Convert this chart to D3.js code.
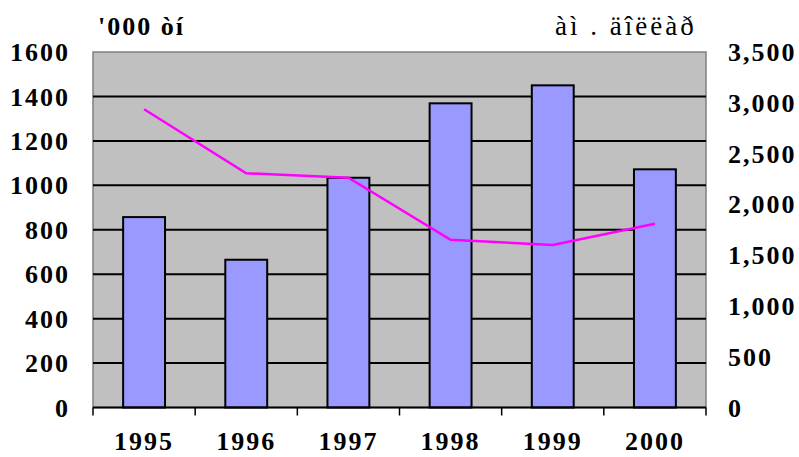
<!DOCTYPE html>
<html>
<head>
<meta charset="utf-8">
<script src="https://cdn.jsdelivr.net/npm/d3@7"></script>
<style>
  body { margin: 0; background: #fff; }
  svg text.lbl { font-family: "Liberation Serif"; font-weight: bold; fill: #000; }
  svg text.lbl.thin { font-weight: normal; }
</style>
</head>
<body>
<div id="chart"></div>
<script>
// data
var years = ["1995", "1996", "1997", "1998", "1999", "2000"];
var barValues = [857, 665, 1034, 1369, 1450, 1072];
var lineValues = [2936, 2306, 2262, 1652, 1600, 1810];
var leftTicks = [0, 200, 400, 600, 800, 1000, 1200, 1400, 1600];
var rightTicks = [0, 500, 1000, 1500, 2000, 2500, 3000, 3500];
var leftTitle = "'000 òí";
var rightTitle = "àì . äîëëàð";

var svgWidth = 799;
var svgHeight = 457;

var plot = { left: 93, right: 706, top: 52, bottom: 407.5 };

var svg = d3.select("#chart")
  .append("svg")
  .attr("width", svgWidth)
  .attr("height", svgHeight);

var xScale = d3.scaleBand()
  .domain(years)
  .range([plot.left, plot.right])
  .paddingInner(0.59)
  .paddingOuter(0.295);

var yLeft = d3.scaleLinear().domain([0, 1600]).range([plot.bottom, plot.top]);
var yRight = d3.scaleLinear().domain([0, 3500]).range([plot.bottom, plot.top]);

// plot area
svg.append("rect")
  .attr("x", plot.left)
  .attr("y", plot.top)
  .attr("width", plot.right - plot.left)
  .attr("height", plot.bottom - plot.top)
  .attr("fill", "#c0c0c0")
  .attr("stroke", "#808080")
  .attr("stroke-width", 1.5);

// gridlines
svg.append("g")
  .selectAll("line")
  .data(leftTicks.filter(function(d) { return d > 0 && d < 1600; }))
  .enter()
  .append("line")
  .attr("x1", plot.left)
  .attr("x2", plot.right)
  .attr("y1", function(d) { return yLeft(d); })
  .attr("y2", function(d) { return yLeft(d); })
  .attr("stroke", "#000")
  .attr("stroke-width", 2);

// bars
svg.append("g")
  .selectAll("rect")
  .data(barValues)
  .enter()
  .append("rect")
  .attr("x", function(d, i) { return xScale(years[i]); })
  .attr("y", function(d) { return yLeft(d); })
  .attr("width", xScale.bandwidth())
  .attr("height", function(d) { return plot.bottom - yLeft(d); })
  .attr("fill", "#9999ff")
  .attr("stroke", "#000")
  .attr("stroke-width", 2);

// line
var line = d3.line()
  .x(function(d, i) { return xScale(years[i]) + xScale.bandwidth() / 2; })
  .y(function(d) { return yRight(d); });

svg.append("path")
  .datum(lineValues)
  .attr("d", line)
  .attr("fill", "none")
  .attr("stroke", "#ff00ff")
  .attr("stroke-width", 2.5);

// x axis with ticks between categories
var xAxisG = svg.append("g")
  .attr("transform", "translate(0," + plot.bottom + ")");
xAxisG.append("line")
  .attr("x1", plot.left)
  .attr("x2", plot.right)
  .attr("stroke", "#000")
  .attr("stroke-width", 2);
xAxisG.selectAll("line.tick")
  .data(d3.range(years.length + 1))
  .enter()
  .append("line")
  .attr("class", "tick")
  .attr("x1", function(i) { return plot.left + i * xScale.step(); })
  .attr("x2", function(i) { return plot.left + i * xScale.step(); })
  .attr("y1", 0)
  .attr("y2", 8)
  .attr("stroke", "#000")
  .attr("stroke-width", 1.5);

svg.append("g")
  .selectAll("text")
  .data(years)
  .enter()
  .append("text")
  .attr("class", "lbl")
  .attr("x", function(d) { return xScale(d) + xScale.bandwidth() / 2; })
  .attr("y", 450)
  .attr("text-anchor", "middle")
  .attr("font-size", 26)
  .attr("letter-spacing", 2)
  .text(function(d) { return d; });

// left axis labels
var leftAxis = d3.axisLeft(yLeft).tickValues(leftTicks).tickSize(0).tickPadding(0)
  .tickFormat(d3.format("d"));
var leftG = svg.append("g")
  .attr("transform", "translate(70,0)")
  .call(leftAxis);
leftG.attr("font-family", null);
leftG.select(".domain").remove();
leftG.selectAll("text")
  .attr("class", "lbl")
  .attr("font-size", 26)
  .attr("letter-spacing", 2)
  .attr("dy", "0.33em");

// right axis labels
var rightAxis = d3.axisRight(yRight).tickValues(rightTicks).tickSize(0).tickPadding(0)
  .tickFormat(d3.format(","));
var rightG = svg.append("g")
  .attr("transform", "translate(728,0)")
  .call(rightAxis);
rightG.attr("font-family", null);
rightG.select(".domain").remove();
rightG.selectAll("text")
  .attr("class", "lbl")
  .attr("font-size", 26)
  .attr("letter-spacing", 2)
  .attr("dy", "0.33em");

// axis titles
svg.append("text")
  .attr("class", "lbl")
  .attr("x", 98)
  .attr("y", 35)
  .attr("font-size", 26)
  .attr("letter-spacing", 2)
  .text(leftTitle);

svg.append("text")
  .attr("class", "lbl thin")
  .attr("x", 555)
  .attr("y", 35)
  .attr("font-size", 27)
  .attr("letter-spacing", 3)
  .text(rightTitle);
</script>
</body>
</html>
